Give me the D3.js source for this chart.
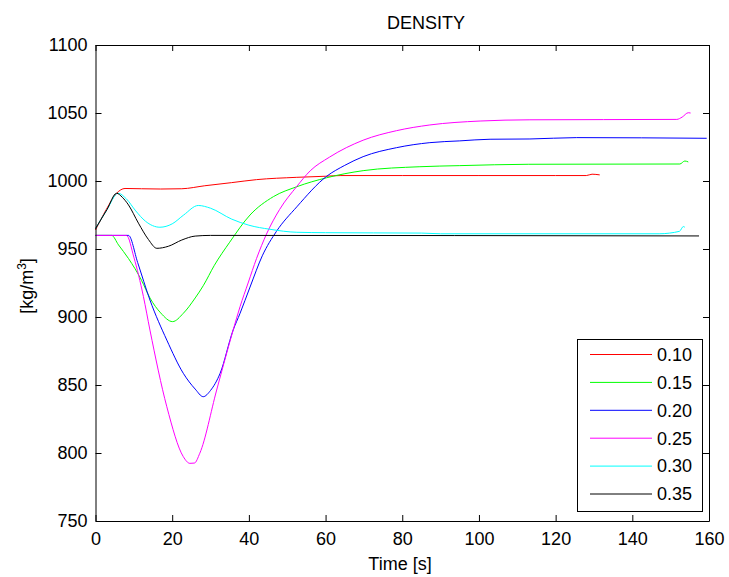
<!DOCTYPE html>
<html>
<head>
<meta charset="utf-8">
<script src="https://cdn.jsdelivr.net/npm/d3@7"></script>
<style>
  body { margin: 0; background: #fff; }
  svg text { font-family: "Liberation Sans", Arial, sans-serif; fill: #000; }
</style>
</head>
<body>
<script>
// values, [time s, density kg/m3]
const s010 = [[0,964],[2.8,979],[5.5,991],[7.7,994.5],[12,994.3],[17,994.1],[22.5,994.3],[28.5,996.5],[35.5,998.8],[42,1001],[52.5,1002.7],[60,1003.5],[64,1004],[80,1004],[100,1004],[120,1004],[128,1004],[129.5,1005],[131.5,1004.5]];
const s015 = [[0,960],[4.2,960],[6,953],[8.6,943],[12,927],[14.2,914],[17,903],[20.1,896.6],[22.9,902.7],[26,914],[28.1,923],[31,938],[35,955],[40.3,975],[46.4,988.5],[52.5,995.8],[60.3,1002.4],[69.8,1007.6],[84.6,1010.5],[95,1011.3],[113,1012.3],[152.4,1012.5],[153.7,1014.7],[154.6,1014]];
const s020 = [[0,960],[8.6,960],[11,940],[14.2,912.5],[18.6,883],[22.9,858.6],[26,847],[28.1,841.4],[30,846],[32.5,858.6],[35.9,890.4],[37.7,902.7],[40.3,922],[43.5,945],[47.2,963],[52.5,981],[60.3,1003.5],[65,1011.5],[69.8,1017.9],[78.5,1024.5],[87.2,1028.2],[95,1029.5],[102.9,1030.7],[113.3,1030.9],[125.5,1031.9],[159.4,1031.4]];
const s025 = [[0,960],[8.1,960],[10,944],[12.5,915],[14.2,890.4],[18.6,834],[22.9,797.3],[24.6,792.4],[25.8,792.6],[27.2,799.8],[31.6,846.3],[35.9,890.4],[37.7,907.6],[39.8,925],[42,943],[44.6,961],[48,979],[52.5,996],[56,1007.5],[61,1017.5],[69.8,1030],[78.5,1037],[87.2,1041.2],[100.3,1044.1],[113.3,1045],[151.6,1045.3],[153,1047],[154.6,1050.2],[155.2,1050]];
const s030 = [[0,965],[3,979],[5.9,991],[8,987],[10.5,978],[13,970.5],[16.8,966],[20,968.5],[23,975],[26.8,982],[30,980],[35.5,972],[40,967.5],[45.5,964.5],[52.5,962.3],[60,962],[85,961.7],[90,961.2],[147,961.2],[152.3,963],[153.3,966.5],[153.7,966]];
const s035 = [[0,965],[3,979],[5.5,991],[7,988],[8.6,982.4],[11.2,969],[13.8,957],[16,950.5],[19,952],[22.5,956.6],[26,959.5],[30,960],[157.4,959.6]];

const seriesNames = ["0.10","0.15","0.20","0.25","0.30","0.35"];
const xTicks = [0,20,40,60,80,100,120,140,160];
const yTicks = [750,800,850,900,950,1000,1050,1100];

const colors = ["#ff0000","#00ff00","#0000ff","#ff00ff","#00ffff","#000000"];
const allSeries = [s010,s015,s020,s025,s030,s035];

const W = 729, H = 577;
const padL = 95.5, padR = 709, padT = 45, padB = 521;

const svg = d3.select("body").append("svg")
  .attr("width", W).attr("height", H);

svg.append("rect").attr("width", W).attr("height", H).attr("fill", "#fff");

const x = d3.scaleLinear().domain([0,160]).range([padL, padR]);
const y = d3.scaleLinear().domain([750,1100]).range([padB, padT]);

const line = d3.line()
  .curve(d3.curveMonotoneX)
  .x(d => x(d[0]))
  .y(d => y(d[1]));

svg.selectAll("path.series")
  .data(allSeries)
  .enter()
  .append("path")
  .attr("class", "series")
  .attr("d", line)
  .attr("fill", "none")
  .attr("stroke", (d, i) => colors[i])
  .attr("stroke-width", 1);

// axes, MATLAB style: ticks pointing inward on all sides
const fs = 18;
svg.append("g").attr("transform", "translate(0," + padB + ")")
  .call(d3.axisBottom(x).tickValues(xTicks).tickSizeInner(-6).tickSizeOuter(0).tickPadding(11).tickFormat(d3.format("d")));
svg.append("g").attr("transform", "translate(" + padL + ",0)")
  .call(d3.axisLeft(y).tickValues(yTicks).tickSizeInner(-6).tickSizeOuter(0).tickPadding(8).tickFormat(d3.format("d")));
svg.append("g").attr("transform", "translate(0," + padT + ")")
  .call(d3.axisTop(x).tickValues(xTicks).tickSizeInner(-6).tickSizeOuter(0).tickFormat(""));
svg.append("g").attr("transform", "translate(" + padR + ",0)")
  .call(d3.axisRight(y).tickValues(yTicks).tickSizeInner(-6).tickSizeOuter(0).tickFormat(""));

svg.selectAll(".tick text").attr("font-size", fs).attr("font-family", null);
svg.selectAll(".domain, .tick line").attr("stroke", "#000");

svg.append("text")
  .attr("x", 426).attr("y", 29)
  .attr("text-anchor", "middle")
  .attr("font-size", 18)
  .text("DENSITY");

svg.append("text")
  .attr("x", 400).attr("y", 570)
  .attr("text-anchor", "middle")
  .attr("font-size", 18)
  .text("Time [s]");

const yl = svg.append("text")
  .attr("transform", "translate(33,286) rotate(-90)")
  .attr("text-anchor", "middle")
  .attr("font-size", 18);
yl.append("tspan").text("[kg/m");
yl.append("tspan").attr("font-size", 12).attr("dy", -7).text("3");
yl.append("tspan").attr("dy", 7).text("]");

// legend
const lg = svg.append("g");
lg.append("rect")
  .attr("x", 577.5).attr("y", 339.5)
  .attr("width", 125).attr("height", 172)
  .attr("fill", "#fff").attr("stroke", "#000");

const rows = lg.selectAll("g.row")
  .data(seriesNames)
  .enter()
  .append("g")
  .attr("class", "row")
  .attr("transform", (d, i) => "translate(0," + (354.5 + i * 27.9) + ")");

rows.append("line")
  .attr("x1", 590).attr("x2", 652)
  .attr("stroke", (d, i) => colors[i]);

rows.append("text")
  .attr("x", 657).attr("dy", "0.35em")
  .attr("font-size", 18)
  .text(d => d);
</script>
</body>
</html>
